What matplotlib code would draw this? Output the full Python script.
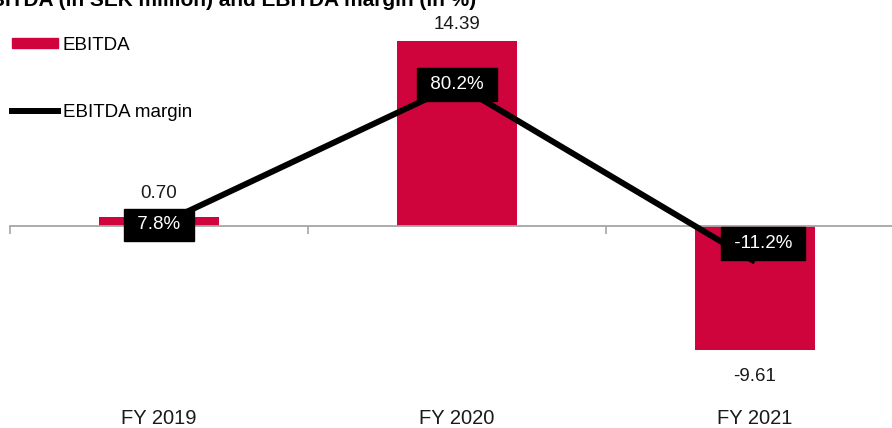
import matplotlib
matplotlib.use('Agg')
import matplotlib.pyplot as plt
from matplotlib.patches import Patch
from matplotlib.lines import Line2D
from matplotlib.transforms import blended_transform_factory

plt.rcParams['font.family'] = ['Liberation Sans', 'DejaVu Sans']

years = ['FY 2019', 'FY 2020', 'FY 2021']
ebitda = [0.70, 14.39, -9.61]
margin = [7.8, 80.2, -11.2]
ebitda_labels = ['0.70', '14.39', '-9.61']
margin_labels = ['7.8%', '80.2%', '-11.2%']

bar_color = '#D0043C'
grey = '#A6A6A6'
px = 72 / 100  # points per pixel at dpi 100

fig = plt.figure(figsize=(8.92, 4.28), dpi=100)
ax = fig.add_axes([10 / 892, 28 / 428, 894 / 892, 380 / 428])
x = list(range(len(years)))

ax.bar(x, ebitda, width=0.4, color=bar_color, zorder=2)
ax.set_xlim(-0.5, 2.5)
ax.set_ylim(-(400 - 226) / 12.86, (226 - 20) / 12.86)

for s in ['top', 'right', 'left']:
    ax.spines[s].set_visible(False)
ax.spines['bottom'].set_position(('data', 0))
ax.spines['bottom'].set_color(grey)
ax.spines['bottom'].set_linewidth(1.3)
ax.set_yticks([])
ax.set_xticks([-0.5, 0.5, 1.5, 2.5])
ax.set_xticklabels([])
ax.tick_params(axis='x', direction='out', length=8 * px, width=1.2, color=grey)

# bar value labels
offsets = [23, 16, -27]
for xi, v, lab, off in zip(x, ebitda, ebitda_labels, offsets):
    ax.annotate(lab, (xi, v), xytext=(0, off * px), textcoords='offset points',
                ha='center', va='center', fontsize=13.5, color='#1a1a1a')

# category labels
trans = blended_transform_factory(ax.transData, fig.transFigure)
for xi, lab in zip(x, years):
    ax.text(xi, 1 - 418 / 428, lab, transform=trans, ha='center', va='center',
            fontsize=14.5, color='#1a1a1a')

# margin line on secondary axis
ax2 = ax.twinx()
ax2.set_ylim(-(400 - 240) / 1.937, (240 - 20) / 1.937)
ax2.plot(x, margin, color='black', linewidth=4.3, zorder=3, solid_capstyle='butt')
for s in ax2.spines.values():
    s.set_visible(False)
ax2.set_yticks([])

label_off = [(0, 0), (0, 0), (8, 18)]
for xi, v, lab, (dx, dy) in zip(x, margin, margin_labels, label_off):
    ax2.annotate(' ' + lab + ' ', (xi, v), xytext=(dx * px, dy * px),
                 textcoords='offset points', ha='center', va='center',
                 fontsize=13.5, color='white', zorder=5,
                 bbox=dict(boxstyle='square,pad=0.42', fc='black', ec='black'))

handles = [Patch(color=bar_color), Line2D([0], [0], color='black', linewidth=4.3)]
leg = fig.legend(handles, ['EBITDA', 'EBITDA margin'], loc='upper left',
                 bbox_to_anchor=(12 / 892, 1 - 37 / 428), frameon=False,
                 fontsize=13.5, handlelength=2.45, handleheight=0.45,
                 handletextpad=0.25, labelspacing=2.65, borderpad=0,
                 borderaxespad=0)

fig.text(476 / 892, 1 - 6 / 428, 'EBITDA (in SEK million) and EBITDA margin (in %)',
         ha='right', va='baseline', fontsize=15, fontweight='bold', color='black')

fig.savefig('out.png', dpi=100)
